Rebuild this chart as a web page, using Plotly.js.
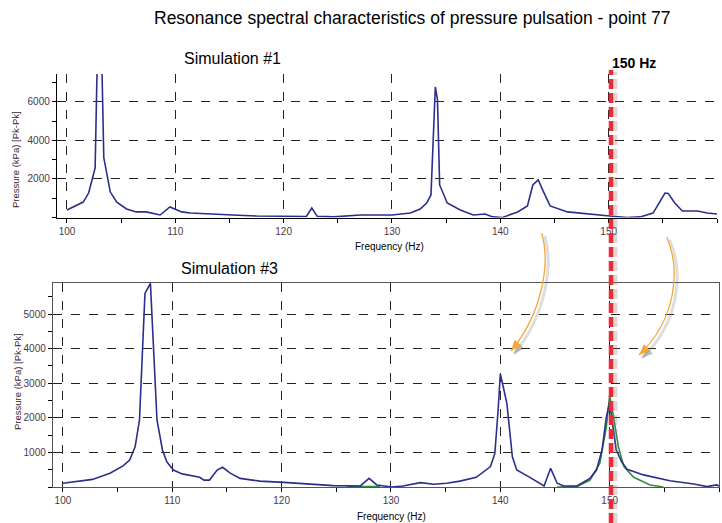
<!DOCTYPE html>
<html>
<head>
<meta charset="utf-8">
<script src="https://cdn.plot.ly/plotly-3.0.1.min.js"></script>
<style>html,body{margin:0;padding:0;background:#fff;}#chart{width:722px;height:523px;}</style>
</head>
<body>
<div id="chart"></div>
<script>
// ---- Data: Simulation #1 ----
const sim1Freq = [100, 101.0, 101.5, 102.0, 102.6, 103.0, 103.4, 104.0, 104.6, 105.5, 106.4, 107.3, 108.6, 109.5, 110.6, 111.4, 112.9, 115.3, 117.5, 120.0, 122.1, 122.6, 123.1, 124.6, 125.9, 127.1, 130.0, 131.7, 132.6, 133.2, 133.6, 133.8, 134.0, 134.2, 134.4, 135.1, 136.3, 137.5, 138.6, 139.3, 140.2, 141.6, 142.5, 143.0, 143.5, 144.0, 144.6, 146.2, 148.0, 150.1, 151.7, 152.9, 154.1, 154.8, 155.2, 155.5, 156.1, 156.8, 158.2, 159.1, 160.0];
const sim1Press = [390, 650, 800, 1270, 2570, 14000, 3100, 1320, 800, 440, 290, 290, 130, 550, 290, 230, 180, 130, 80, 50, 50, 490, 60, 30, 80, 130, 130, 230, 440, 750, 1170, 3870, 6780, 6100, 1690, 750, 390, 130, 180, 30, 0, 290, 600, 1690, 1950, 1320, 600, 290, 180, 80, 0, 30, 230, 910, 1270, 1250, 750, 340, 340, 230, 180];

// ---- Data: Simulation #3 (blue) ----
const sim3Freq = [100, 102.7, 104.3, 105.5, 106.1, 106.6, 107.0, 107.5, 108.0, 108.6, 109.1, 109.5, 110.1, 110.9, 112.5, 112.9, 113.4, 114.1, 114.6, 115.3, 116.2, 118.0, 120.2, 122.9, 124.7, 127.2, 128.0, 128.7, 130.1, 131.1, 132.7, 133.9, 135.1, 136.3, 137.8, 139.1, 139.5, 139.8, 140.0, 140.3, 140.6, 141.1, 141.5, 142.7, 144.0, 144.6, 145.2, 145.8, 147.0, 148.2, 148.8, 149.3, 149.7, 150.0, 150.6, 151.1, 151.6, 153.1, 155.5, 157.7, 158.9, 159.8, 160.0];
const sim3Press = [110, 220, 400, 610, 780, 1160, 1940, 5600, 5890, 1940, 1070, 730, 490, 380, 280, 200, 200, 490, 570, 400, 250, 170, 135, 80, 40, 30, 250, 60, 0, 30, 125, 80, 110, 170, 280, 590, 970, 2230, 3270, 2850, 2420, 880, 490, 280, 30, 540, 110, 30, 30, 250, 490, 1070, 2030, 2450, 1070, 730, 510, 350, 180, 87, 10, 60, 30];

// ---- Data: Simulation #3 (green, around 150 Hz) ----
const sim3gFreq = [126.0, 127.5, 129.0, null, 145.2, 147.0, 148.2, 149.1, 149.7, 150.0, 150.3, 150.8, 151.3, 152.2, 153.7, 154.9];
const sim3gPress = [10, 20, 10, null, 0, 10, 200, 690, 1740, 2660, 2130, 1160, 590, 280, 60, 0];

// ---- Tick labels ----
const freqTicks = [100, 110, 120, 130, 140, 150, 160];
const sim1PressTicks = [2000, 4000, 6000];
const sim3PressTicks = [1000, 2000, 3000, 4000, 5000];

const W = 722, H = 523;
const px = x => x / W;
const py = y => 1 - y / H;

const navy = '#2b2f8c';
const green = '#2f8f3c';
const FONT = 'Liberation Sans, Arial, sans-serif';
const tickFont = {family: FONT, size: 10, color: '#4a3848'};

const traces = [
  {x: sim1Freq, y: sim1Press, xaxis: 'x', yaxis: 'y', type: 'scatter', mode: 'lines',
   line: {color: navy, width: 1.6}, hoverinfo: 'skip'},
  {x: sim3gFreq, y: sim3gPress, xaxis: 'x2', yaxis: 'y2', type: 'scatter', mode: 'lines',
   line: {color: green, width: 1.6}, connectgaps: false, hoverinfo: 'skip'},
  {x: sim3Freq, y: sim3Press, xaxis: 'x2', yaxis: 'y2', type: 'scatter', mode: 'lines',
   line: {color: navy, width: 1.6}, hoverinfo: 'skip'}
];

function xAxis(domain, anchor, range, mirror) {
  return {
    domain: domain, anchor: anchor, range: range,
    tickvals: freqTicks, ticktext: freqTicks.map(String),
    ticks: 'outside', ticklen: 4, tickcolor: '#000',
    showgrid: true, gridcolor: '#222', griddash: 'dash', gridwidth: 1,
    minor: {dtick: 5, tick0: 100, ticks: 'outside', ticklen: 4, tickcolor: '#000', showgrid: false},
    showline: true, linecolor: mirror ? '#555' : '#000', linewidth: 1.2, mirror: mirror,
    zeroline: false, tickfont: tickFont, fixedrange: true
  };
}
function yAxis(domain, anchor, range, vals, minorStep, mirror) {
  return {
    domain: domain, anchor: anchor, range: range,
    tickvals: vals, ticktext: vals.map(String),
    ticks: 'outside', ticklen: 4, tickcolor: '#000',
    showgrid: true, gridcolor: '#222', griddash: 'dash', gridwidth: 1,
    minor: {dtick: minorStep, tick0: 0, ticks: 'outside', ticklen: 4, tickcolor: '#000', showgrid: false},
    showline: true, linecolor: mirror ? '#555' : '#000', linewidth: 1.2, mirror: mirror,
    zeroline: false, tickfont: tickFont, fixedrange: true
  };
}

// arrow helper (decoration) in pixel coords
function cubicPath(p0, c1, c2, p1, dx, dy) {
  const f = p => px(p[0] + dx) + ',' + py(p[1] + dy);
  return 'M' + f(p0) + ' C' + f(c1) + ' ' + f(c2) + ' ' + f(p1);
}
function headPath(tip, from, len, wid, dx, dy) {
  const vx = tip[0] - from[0], vy = tip[1] - from[1];
  const n = Math.hypot(vx, vy), ux = vx / n, uy = vy / n;
  const bx = tip[0] - ux * len, by = tip[1] - uy * len;
  const a = [bx - uy * wid / 2, by + ux * wid / 2], b = [bx + uy * wid / 2, by - ux * wid / 2];
  const f = p => px(p[0] + dx) + ',' + py(p[1] + dy);
  return 'M' + f(tip) + ' L' + f(a) + ' L' + f(b) + ' Z';
}
const arrows = [
  {p0: [541.7, 233], c1: [551, 265], c2: [541, 315], p1: [511, 351]},
  {p0: [666.7, 237], c1: [681, 270], c2: [676, 320], p1: [639, 355]}
];
const shapes = [];
arrows.forEach(a => {
  shapes.push({type: 'path', xref: 'paper', yref: 'paper', path: cubicPath(a.p0, a.c1, a.c2, a.p1, 3, 3),
    line: {color: 'rgba(120,120,120,0.25)', width: 3}});
  shapes.push({type: 'path', xref: 'paper', yref: 'paper', path: headPath(a.p1, a.c2, 11, 9, 3, 3),
    fillcolor: 'rgba(90,90,90,0.35)', line: {width: 0}});
  shapes.push({type: 'path', xref: 'paper', yref: 'paper', path: cubicPath(a.p0, a.c1, a.c2, a.p1, 0, 0),
    line: {color: '#f5a83a', width: 1.3}});
  shapes.push({type: 'path', xref: 'paper', yref: 'paper', path: headPath(a.p1, a.c2, 11, 9, 0, 0),
    fillcolor: '#f5a83a', line: {width: 0}});
});
// 150 Hz marker line with shadow
shapes.push({type: 'line', xref: 'paper', yref: 'paper', x0: px(615), x1: px(615), y0: 0, y1: py(72),
  line: {color: 'rgba(130,130,130,0.3)', width: 5, dash: '10px,4px'}});
shapes.push({type: 'line', xref: 'paper', yref: 'paper', x0: px(611), x1: px(611), y0: 0, y1: py(70),
  line: {color: '#ee2a36', width: 4.5, dash: '10px,4px'}});

const ann = (text, x, y, size, opts) => Object.assign({
  text: text, x: px(x), y: py(y), xref: 'paper', yref: 'paper', showarrow: false,
  xanchor: 'center', yanchor: 'middle',
  font: {family: FONT, size: size, color: '#000'}
}, opts || {});

const annotations = [
  ann('Resonance spectral characteristics of pressure pulsation - point 77', 412, 18, 17.5),
  ann('Simulation #1', 232.5, 58, 16),
  ann('Simulation #3', 229, 268, 16),
  ann('<b>150 Hz</b>', 634, 63, 14),
  ann('Frequency (Hz)', 390, 246, 10),
  ann('Frequency (Hz)', 391, 516, 10),
  ann('Pressure (kPa) [Pk-Pk]', 16, 160, 9.5, {textangle: -90, font: {family: FONT, size: 9.5, color: '#3a2430'}}),
  ann('Pressure (kPa) [Pk-Pk]', 17, 382, 9.5, {textangle: -90, font: {family: FONT, size: 9.5, color: '#3a2430'}})
];

const layout = {
  width: W, height: H,
  margin: {l: 0, r: 0, t: 0, b: 0},
  paper_bgcolor: '#fff', plot_bgcolor: '#fff',
  showlegend: false,
  xaxis: xAxis([px(57), px(717)], 'y', [99.08, 160], false),
  yaxis: yAxis([py(217.5), py(74)], 'x', [0, 7450], sim1PressTicks, 1000, false),
  xaxis2: xAxis([px(53), px(719)], 'y2', [99.09, 160], true),
  yaxis2: yAxis([py(487), py(283)], 'x2', [0, 5900], sim3PressTicks, 500, true),
  shapes: shapes,
  annotations: annotations
};

Plotly.newPlot('chart', traces, layout, {staticPlot: true, displayModeBar: false});
</script>
</body>
</html>
